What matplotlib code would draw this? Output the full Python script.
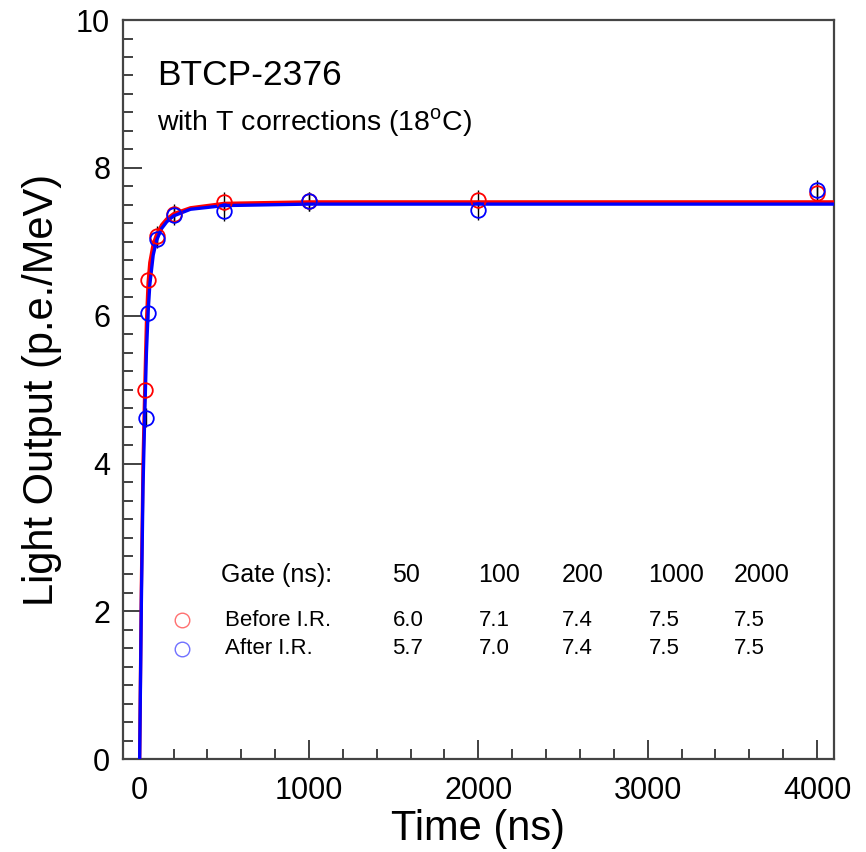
import matplotlib
matplotlib.use("Agg")
import matplotlib.pyplot as plt
from matplotlib.ticker import MultipleLocator

plt.rcParams["font.family"] = ["Liberation Sans", "DejaVu Sans"]
plt.rcParams["mathtext.fontset"] = "custom"
plt.rcParams["mathtext.rm"] = "Liberation Sans"

# measured points (gate in ns, light output in p.e./MeV)
gate_before = [33, 50, 100, 200, 500, 1000, 2000, 4000]
lo_before = [5.00, 6.48, 7.08, 7.38, 7.54, 7.55, 7.57, 7.66]
gate_after = [38, 52, 105, 200, 500, 1000, 2000, 4000]
lo_after = [4.62, 6.04, 7.04, 7.36, 7.41, 7.55, 7.43, 7.70]
lo_err = 0.13

# fitted curves
fit_t = [0, 10, 20, 30, 40, 50, 60, 80, 100, 130, 160, 200, 300, 500, 1000, 4100]
fit_before = [0, 2.3, 4.0, 5.0, 5.9, 6.45, 6.72, 6.97, 7.1, 7.23, 7.31, 7.38, 7.46, 7.52, 7.54, 7.54]
fit_after = [0, 2.1, 3.7, 4.65, 5.5, 6.05, 6.42, 6.82, 7.02, 7.18, 7.27, 7.35, 7.44, 7.49, 7.51, 7.51]

# summary table
table_gates = ["50", "100", "200", "1000", "2000"]
table_before = ["6.0", "7.1", "7.4", "7.5", "7.5"]
table_after = ["5.7", "7.0", "7.4", "7.5", "7.5"]

RED = "#ff0000"
BLUE = "#0000ff"

fig = plt.figure(figsize=(8.66, 8.52), dpi=100)
ax = fig.add_axes([0.1417, 0.1088, 0.8213, 0.8677])

ax.errorbar(gate_before, lo_before, yerr=lo_err, fmt="none", ecolor="black", elinewidth=1.0, zorder=2)
ax.errorbar(gate_after, lo_after, yerr=lo_err, fmt="none", ecolor="black", elinewidth=1.0, zorder=2)

ax.plot(fit_t, fit_before, color=RED, lw=2.4, zorder=3)
ax.plot(fit_t, fit_after, color=BLUE, lw=2.4, zorder=3)

ax.plot(gate_before, lo_before, "o", ms=10.5, mfc="none", mec=RED, mew=1.3, zorder=4)
ax.plot(gate_after, lo_after, "o", ms=10.5, mfc="none", mec=BLUE, mew=1.3, zorder=4)

ax.set_xlim(-100, 4100)
ax.set_ylim(0, 10)
ax.xaxis.set_major_locator(MultipleLocator(1000))
ax.xaxis.set_minor_locator(MultipleLocator(200))
ax.yaxis.set_major_locator(MultipleLocator(2))
ax.yaxis.set_minor_locator(MultipleLocator(0.25))
ax.tick_params(which="both", direction="in", top=False, right=False, width=1.3, color="#333333")
ax.tick_params(which="major", length=14, labelsize=22)
ax.tick_params(axis="x", which="major", pad=12)
ax.tick_params(axis="y", which="major", pad=9)
ax.tick_params(which="minor", length=7)
for side in ax.spines.values():
    side.set_linewidth(1.6)
    side.set_color("#444444")

ax.set_xlabel("Time (ns)", fontsize=30, labelpad=2)
ax.set_ylabel("Light Output (p.e./MeV)", fontsize=30, labelpad=10)

ax.text(0.048, 0.912, "BTCP-2376", transform=ax.transAxes, fontsize=25.5, va="baseline")
ax.text(0.048, 0.851, "with T corrections (18$^{\\rm o}$C)", transform=ax.transAxes, fontsize=20.5, va="baseline")

# table, placed in pixel coordinates of the reference and mapped to data
col_x = [392, 478, 561, 648, 733]
px = lambda x: (x - 139.3) / 169.3 * 1000
py = lambda y: (759.3 - y) / 73.93
ax.text(px(221), py(582), "Gate (ns):", fontsize=18, va="baseline")
for xc, g in zip(col_x, table_gates):
    ax.text(px(xc), py(582), g, fontsize=18, va="baseline")
ax.text(px(225), py(626), "Before I.R.", fontsize=16, va="baseline")
ax.text(px(225), py(654), "After I.R.", fontsize=16, va="baseline")
for xc, b, a in zip(col_x, table_before, table_after):
    ax.text(px(xc), py(626), b, fontsize=16, va="baseline")
    ax.text(px(xc), py(654), a, fontsize=16, va="baseline")
ax.plot([px(182)], [py(620)], "o", ms=10.5, mfc="none", mec="#ff7070", mew=1.0)
ax.plot([px(182)], [py(649)], "o", ms=10.5, mfc="none", mec="#7070ff", mew=1.0)

fig.savefig("out.png", dpi=100)
